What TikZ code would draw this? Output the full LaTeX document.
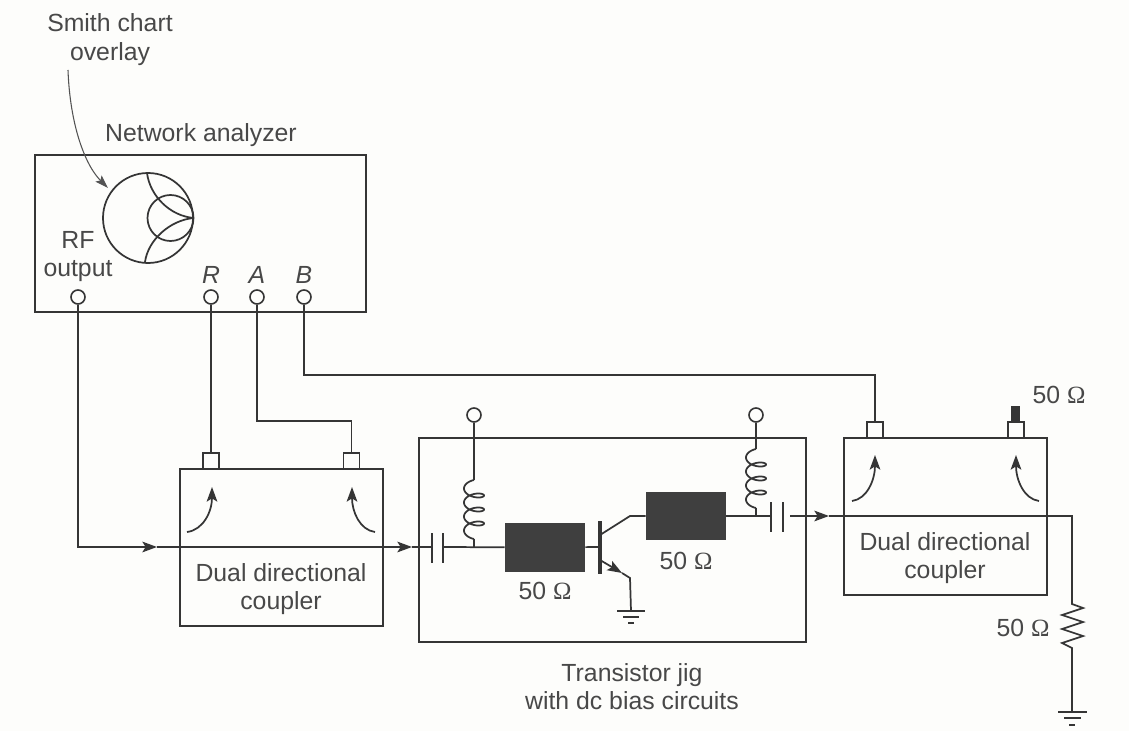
\documentclass[tikz,border=0pt]{standalone}
\usepackage{fontspec}
\setmainfont{Liberation Sans}
\newfontfamily\omfont{Liberation Serif}
\usetikzlibrary{arrows.meta}
\definecolor{ink}{HTML}{353535}
\definecolor{txt}{HTML}{484848}
\definecolor{paper}{HTML}{FDFDFB}
\newcommand{\ohm}{50 {\omfont Ω}}
\newcommand{\coilpath}[2]{plot[domain=0:1260,samples=150,smooth] ({#1-10*sin(\x)},{#2+14*(\x/360)-5*cos(\x)})}
\tikzset{
  wire/.style={draw=ink,line width=1.3pt,line join=miter},
  boxn/.style 2 args={draw=ink,line width=1.4pt,inner sep=0pt,minimum width=#1*0.75pt,minimum height=#2*0.75pt},
  portc/.style={circle,draw=ink,line width=1.2pt,fill=paper,inner sep=0pt,minimum size=10.5pt},
  portb/.style={draw=ink,line width=1.3pt,fill=paper,inner sep=0pt,minimum size=12pt},
  lbl/.style={text=txt,font=\fontsize{18.6}{20}\selectfont,inner sep=0pt,align=center,text height=13.3pt,text depth=0pt},
  dark/.style={fill=ink!95,draw=none,inner sep=0pt,minimum width=60pt,minimum height=36.5pt},
  tip/.style={-{Stealth[length=11pt,width=8pt,inset=2.5pt]}},
  cplate/.style={draw=ink,line width=1.6pt},
}
\begin{document}
\begin{tikzpicture}[x=0.75pt,y=-0.75pt]
\useasboundingbox (0,0) rectangle (1129,731);
\fill[paper] (0,0) rectangle (1129,731);

% boxes
\node[boxn={331}{157}] (na) at (200.5,233.5) {};
\node[boxn={203}{157}] (c1) at (281.5,547.5) {};
\node[boxn={387}{204}] (jig) at (612.5,540) {};
\node[boxn={203}{157}] (c2) at (945.5,516.5) {};

% texts
\node[lbl] (t1) at (110,23) {Smith chart};
\node[lbl] (t2) at (110,52) {overlay};
\node[lbl] (t3) at (201,133) {Network analyzer};
\node[lbl] (t4) at (78,240) {RF};
\node[lbl] (t5) at (78,268) {output};
\node[lbl] (tr) at (211,275) {\itshape R};
\node[lbl] (ta) at (257,275) {\itshape A};
\node[lbl] (tb) at (304,275) {\itshape B};
\node[lbl] (t6) at (281,573) {Dual directional};
\node[lbl] (t7) at (281,601) {coupler};
\node[lbl] (t8) at (945,542) {Dual directional};
\node[lbl] (t9) at (945,570) {coupler};
\node[lbl] (t10) at (632,673) {Transistor jig};
\node[lbl] (t11) at (632,701) {with dc bias circuits};
\node[lbl] (o1) at (545,591) {\ohm};
\node[lbl] (o2) at (686,561) {\ohm};
\node[lbl] (o3) at (1059,395) {\ohm};
\node[lbl] (o4) at (1023,628) {\ohm};

% Smith chart
\node[circle,draw=ink,line width=1.3pt,inner sep=0pt,minimum size=67.5pt] (sm) at (148,218) {};
\node[circle,draw=ink,line width=1.3pt,inner sep=0pt,minimum size=34.5pt] (si) at (170.5,218) {};
\draw[wire] (147,173) .. controls (150,196) and (170,216) .. (sm.east);
\draw[wire] (145,262) .. controls (148,240) and (170,220) .. (sm.east);
\coordinate (ovs) at (68,70);
\coordinate (ove) at (108,188);
\draw[draw=ink!85,line width=0.8pt,-{Stealth[length=10pt,width=6.5pt,inset=2pt]}] (ovs) .. controls (70,125) and (85,165) .. (ove);

% analyzer ports
\node[portc] (rf) at (78,297) {};
\node[portc] (pr) at (211,297) {};
\node[portc] (pa) at (257,297) {};
\node[portc] (pb) at (304,297) {};

% coupler ports
\node[portb] (c1a) at (211,461) {};
\node[portb] (c1b) at (351.5,461) {};
\node[portb] (c2a) at (875,430) {};
\node[portb] (c2b) at (1016,430) {};
\node[fill=ink,inner sep=0pt,minimum width=6.5pt,minimum height=12pt] (plug) at (1015.5,414) {};

% connectors from analyzer
\draw[wire] (pr) -- (c1a);
\coordinate (abend) at (257,421);
\coordinate (bbend) at (304,375);
\draw[wire] (pa) -- (abend) -| (c1b);
\draw[wire] (pb) -- (bbend) -| (c2a);
\coordinate (a1) at (157,547);
\coordinate (a2) at (412,547);
\coordinate (capa) at (432,547);
\draw[wire,tip] (rf) |- (a1);
\draw[wire,tip] (a1) -- (a2);
\draw[wire] (a2) -- (capa);

% directional arrows
\foreach \n/\sx/\sy/\ex/\ey/\cxa/\cya/\cxb/\cyb in {
  p/187/532/212/487/203/530/212/512,
  q/375/532/352/487/360/530/352/512,
  r/852/501/875/455/867/499/875/480,
  s/1039/501/1016/455/1024/499/1016/480}
  \draw[wire,tip] (\sx,\sy) .. controls (\cxa,\cya) and (\cxb,\cyb) .. (\ex,\ey);

% input capacitor and line
\coordinate (capat) at (432,533); \coordinate (capab) at (432,563);
\coordinate (capbt) at (443,533); \coordinate (capbb) at (443,563);
\draw[cplate] (capat) -- (capab);
\draw[cplate] (capbt) -- (capbb);
\node[dark] (b1) at (545,547.5) {};
\coordinate (capb) at (443,547);
\draw[wire] (capb) -- (b1);

% bias 1
\node[portc] (v1) at (474,415) {};
\coordinate (l1t) at (474,480);
\coordinate (l1b) at (474,547);
\draw[wire] (v1) -- (l1t);
\draw[wire] \coilpath{474}{485};
\draw[wire] (474,539) -- (l1b);

% transistor
\coordinate (bt) at (600,521); \coordinate (bb) at (600,574);
\draw[draw=ink,line width=3.2pt] (bt) -- (bb);
\coordinate (bm) at (600,547);
\draw[wire] (b1) -- (bm);
\node[dark] (b2) at (686,516) {};
\coordinate (cb) at (630,516);
\coordinate (ct) at (600,535);
\draw[wire] (ct) -- (cb) -- (b2);
\coordinate (et) at (600,560);
\coordinate (em) at (622,573);
\coordinate (eb) at (630,578);
\coordinate (g1) at (631,611);
\draw[wire,tip] (et) -- (em);
\draw[wire] (em) -- (eb) -- (g1);
\draw[wire] (617,611) -- (645,611);
\draw[wire] (623,617) -- (639,617);
\draw[wire] (628,623) -- (634,623);

% output capacitor, bias 2
\coordinate (capc) at (771,516);
\draw[wire] (b2) -- (capc);
\draw[cplate] (771,502) -- (771,532);
\draw[cplate] (783,502) -- (783,532);
\node[portc] (v2) at (756,415) {};
\coordinate (l2t) at (756,449);
\coordinate (l2b) at (756,516);
\draw[wire] (v2) -- (l2t);
\draw[wire] \coilpath{756}{454};
\draw[wire] (756,508) -- (l2b);

% output line
\coordinate (o0) at (790,516);
\coordinate (oa) at (829,516);
\coordinate (obend) at (1072,516);
\coordinate (rt) at (1072,604);
\coordinate (rb) at (1072,648);
\coordinate (g2) at (1072,712);
\draw[wire,tip] (o0) -- (oa);
\draw[wire] (oa) -- (obend) -- (rt)
  -- (1083,608) -- (1062,615) -- (1083,622) -- (1062,629) -- (1083,636) -- (1062,643) -- (rb) -- (g2);
\draw[wire] (1058,712) -- (1087,712);
\draw[wire] (1064,718) -- (1081,718);
\draw[wire] (1069,725) -- (1075,725);
\end{tikzpicture}
\end{document}
